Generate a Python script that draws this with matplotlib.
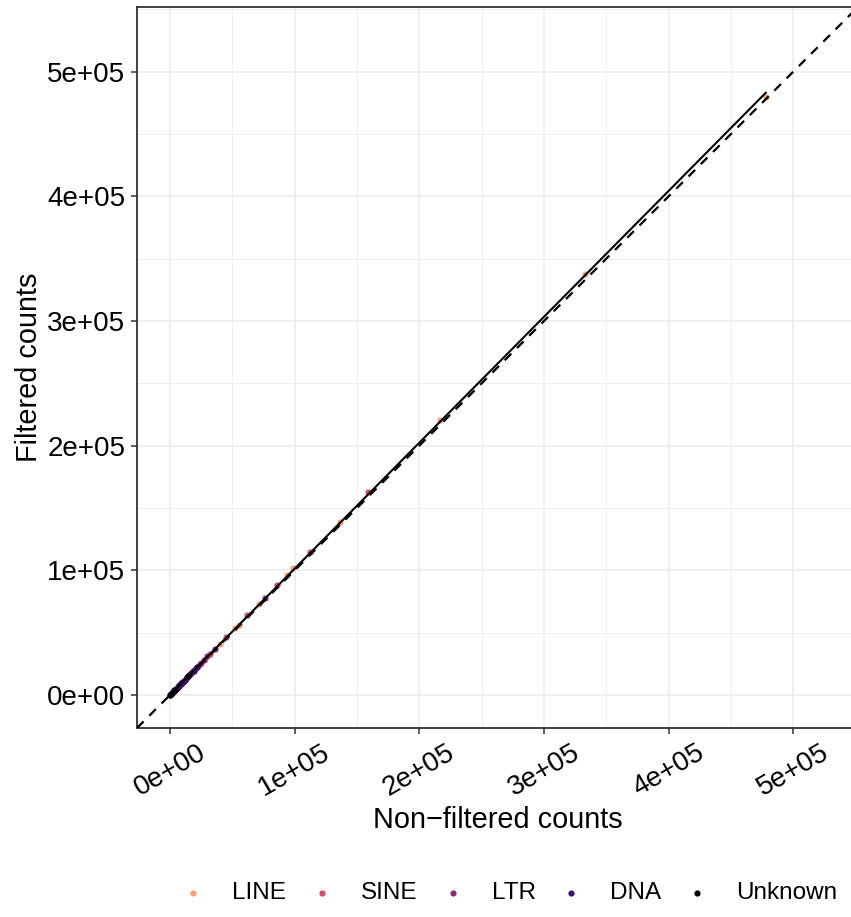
import numpy as np
import matplotlib
matplotlib.use("Agg")
import matplotlib.pyplot as plt
from matplotlib.ticker import FixedLocator, MultipleLocator

plt.rcParams['font.family'] = ['Liberation Sans', 'DejaVu Sans']

# repeat classes, in legend order
classes = ['LINE', 'SINE', 'LTR', 'DNA', 'Unknown']
colors = ['#FE9F6D', '#DE4968', '#8C2981', '#3B0F70', '#000004']

# non-filtered (x) vs filtered (y) counts
line_x = [478000, 333000, 217000, 136000, 99000, 94000, 71000, 55000, 52000,
          40000, 28000, 22000, 15000, 9000, 5000, 2000]
line_y = [480000, 337500, 220500, 138500, 101500, 96200, 72800, 56500, 53500,
          41000, 28800, 22600, 15400, 9200, 5100, 2050]
sine_x = [159000, 112000, 86000, 62000, 45000, 32000, 25000, 18000, 12000,
          7000, 3000, 1000]
sine_y = [162500, 114800, 88000, 63800, 46200, 33000, 25700, 18500, 12300,
          7200, 3080, 1030]
ltr_x = [76000, 36000, 30000, 27000, 24000, 22000, 20000, 18500, 17000, 15500,
         14000, 12500, 11000, 10000, 9000, 8000, 7000, 6000, 5000, 4000,
         3500, 2500, 2000, 1500, 1000, 500]
ltr_y = [78000, 37200, 30900, 27800, 24700, 22700, 20600, 19100, 17500, 16000,
         14400, 12900, 11300, 10300, 9250, 8250, 7200, 6200, 5150, 4130,
         3600, 2580, 2060, 1550, 1030, 515]
dna_x = [22000, 19000, 16000, 14000, 12000, 10500, 9500, 8500, 7500, 6500,
         6000, 5000, 4500, 3500, 3000, 2000, 1500, 1200, 600, 200]
dna_y = [22700, 19600, 16500, 14400, 12400, 10800, 9800, 8750, 7700, 6700,
         6200, 5150, 4650, 3600, 3100, 2060, 1550, 1240, 620, 210]
unk_x = [14500, 4000, 500, 0]
unk_y = [15500, 4150, 520, 100]

xs = [line_x, sine_x, ltr_x, dna_x, unk_x]
ys = [line_y, sine_y, ltr_y, dna_y, unk_y]

tick_vals = [0, 100000, 200000, 300000, 400000, 500000]
tick_labels = ['0e+00', '1e+05', '2e+05', '3e+05', '4e+05', '5e+05']

fig = plt.figure(figsize=(8.51, 9.17), dpi=100)
ax = fig.add_axes([0.161, 0.2061, 0.8472, 0.7863])

for name, col, x, y in zip(classes, colors, xs, ys):
    ax.scatter(x, y, s=20, color=col, linewidths=0, label=name, zorder=3)

# linear fit through all points
allx = np.concatenate([np.array(v, float) for v in xs])
ally = np.concatenate([np.array(v, float) for v in ys])
k, b = np.polyfit(allx, ally, 1)
fx = np.array([allx.min(), allx.max()])
ax.plot(fx, k * fx + b, color='black', lw=1.5, zorder=4)

lims = (-26500, 552000)
ax.set_xlim(lims)
ax.set_ylim(lims)
ax.plot(lims, lims, color='black', lw=1.6, dashes=(4.2, 3.6), zorder=4)

ax.xaxis.set_major_locator(FixedLocator(tick_vals))
ax.yaxis.set_major_locator(FixedLocator(tick_vals))
ax.set_xticklabels(tick_labels, rotation=30, ha='center')
ax.set_yticklabels(tick_labels)
ax.xaxis.set_minor_locator(MultipleLocator(50000))
ax.yaxis.set_minor_locator(MultipleLocator(50000))
ax.grid(which='major', color='#EBEBEB', lw=1.1, zorder=0)
ax.grid(which='minor', color='#EBEBEB', lw=0.6, zorder=0)
ax.set_axisbelow(True)
ax.tick_params(which='minor', length=0)
ax.tick_params(which='major', length=4.5, width=1.1, color='#333333',
               labelsize=20, labelcolor='black', pad=4)
for s in ax.spines.values():
    s.set_color('#333333')
    s.set_linewidth(1.3)

ax.set_xlabel('Non\u2212filtered counts', fontsize=20.8, labelpad=3)
ax.set_ylabel('Filtered counts', fontsize=20.8, labelpad=3)

fig.legend(loc='center', bbox_to_anchor=(0.591, 0.026), ncol=5, frameon=False,
           fontsize=17.5, handlelength=2.0, handletextpad=0.6,
           columnspacing=0.47, markerscale=1.0)

fig.savefig('out.png', dpi=100)
